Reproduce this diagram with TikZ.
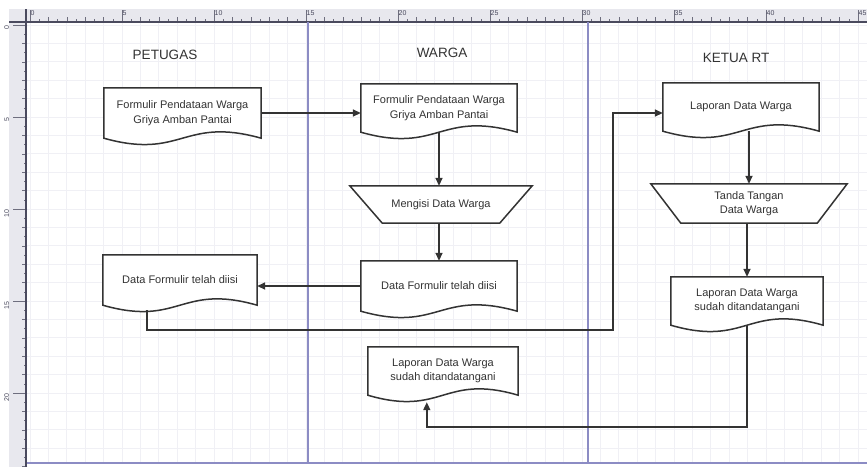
\documentclass[tikz,border=0pt]{standalone}
\usepackage{fontspec}
\setmainfont{Liberation Sans}
\usetikzlibrary{arrows.meta,calc}

\definecolor{ink}{HTML}{333333}
\definecolor{gridc}{HTML}{F0F0F5}
\definecolor{lanec}{HTML}{8C8CC4}
\definecolor{rulerbg}{HTML}{E8E8EE}
\definecolor{rulerln}{HTML}{4A4A5E}

\tikzset{
  docbox/.style={inner sep=0pt, align=center, text=ink,
    font=\fontsize{11}{14.5}\selectfont},
  header/.style={text=ink, font=\fontsize{13.5}{16}\selectfont},
  outline/.style={draw=ink, line width=1.5pt, line join=miter, fill=white},
  flow/.style={draw=ink, line width=1.6pt, -{Triangle[length=8pt,width=7pt]}},
  gridline/.style={draw=gridc, line width=0.7pt},
  laneline/.style={draw=lanec, line width=1.1pt},
  tick/.style={draw=rulerln!80, line width=0.6pt},
  rulerlabel/.style={text=rulerln, font=\fontsize{7}{8}\selectfont, inner sep=0.5pt}
}

% document symbol: flat top, wavy bottom edge
\newcommand\docshape[1]{%
  \path[outline] (#1.north west) -- (#1.north east) -- (#1.south east)
    .. controls ($(#1.south)+(0,-22)$) and ($(#1.south)+(0,22)$) .. (#1.south west) -- cycle;}
% manual operation symbol: wider top than bottom
\newcommand\trapshape[2]{%
  \path[outline] ($(#1.north west)+(-#2,0)$) -- ($(#1.north east)+(#2,0)$)
    -- (#1.south east) -- (#1.south west) -- cycle;}

\begin{document}
\begin{tikzpicture}[x=1pt,y=-1pt]
\useasboundingbox (0,0) rectangle (867,467);
\fill[white] (0,0) rectangle (867,467);

% background grid
\foreach \i in {0,...,45} \draw[gridline] ({30+18.4*\i},22) -- ({30+18.4*\i},463);
\foreach \j in {0,...,23} \draw[gridline] (27,{25+18.4*\j}) -- (867,{25+18.4*\j});

% rulers
\fill[rulerbg] (27,9) rectangle (867,22);
\fill[rulerbg] (9,9) rectangle (27,467);
\foreach \i in {0,...,90} \draw[tick] ({30+9.2*\i},22) -- ++(0,-3);
\foreach \i in {0,...,45} \draw[tick] ({30+18.4*\i},22) -- ++(0,-5);
\foreach \i/\lab in {0/0,1/5,2/10,3/15,4/20,5/25,6/30,7/35,8/40,9/45} {
  \draw[tick] ({30+92*\i},22) -- ++(0,-12);
  \node[rulerlabel, anchor=north west] (tx\i) at ({30+92*\i},9.5) {\lab};
}
\foreach \j in {0,...,48} \draw[tick] (27,{25+9.2*\j}) -- ++(-3,0);
\foreach \j in {0,...,24} \draw[tick] (27,{25+18.4*\j}) -- ++(-5,0);
\foreach \j/\lab in {0/0,1/5,2/10,3/15,4/20} {
  \draw[tick] (27,{25+92*\j}) -- ++(-14,0);
  \node[rulerlabel, rotate=90, anchor=south east] (ty\j) at (10,{25+92*\j}) {\lab};
}
\draw[draw=rulerln, line width=1.5pt] (9,22) -- (867,22);
\draw[draw=rulerln, line width=1.5pt] (26,9) -- (26,467);

% swimlane borders
\draw[laneline] (308,22) -- (308,463);
\draw[laneline] (588,22) -- (588,463);
\draw[laneline] (27,463) -- (867,463);

% lane headings
\node[header] (hPetugas) at (165,55) {PETUGAS};
\node[header] (hWarga) at (442,53) {WARGA};
\node[header] (hKetua) at (736,58) {KETUA RT};

% PETUGAS lane
\node[docbox, minimum width=157pt, minimum height=50pt] (formP) at (182.5,113) {};
\node[docbox, minimum width=154pt, minimum height=50pt] (isiP) at (180,280) {};

% WARGA lane
\node[docbox, minimum width=156pt, minimum height=48pt] (formW) at (439,108) {};
\node[docbox, minimum width=117pt, minimum height=37pt] (isiW) at (441,204.5) {};
\node[docbox, minimum width=156pt, minimum height=50pt] (dataW) at (439,286) {};
\node[docbox, minimum width=150pt, minimum height=48pt] (lapW) at (443,371) {};

% KETUA RT lane
\node[docbox, minimum width=156pt, minimum height=48pt] (lapK) at (741,107) {};
\node[docbox, minimum width=136pt, minimum height=39pt] (ttdK) at (749,203.5) {};
\node[docbox, minimum width=152pt, minimum height=48pt] (sahK) at (747,301) {};

% symbol outlines
\docshape{formP}\docshape{isiP}\docshape{formW}\docshape{dataW}
\docshape{lapW}\docshape{lapK}\docshape{sahK}
\trapshape{isiW}{32.5}\trapshape{ttdK}{30}

% symbol texts
\node[docbox] (formPt) at (formP) {Formulir Pendataan Warga\\Griya Amban Pantai};
\node[docbox] (isiPt) at (isiP) {Data Formulir telah diisi};
\node[docbox] (formWt) at (formW) {Formulir Pendataan Warga\\Griya Amban Pantai};
\node[docbox] (isiWt) at (isiW) {Mengisi Data Warga};
\node[docbox] (dataWt) at (dataW) {Data Formulir telah diisi};
\node[docbox] (lapWt) at (lapW) {Laporan Data Warga\\sudah ditandatangani};
\node[docbox] (lapKt) at (lapK) {Laporan Data Warga};
\node[docbox] (ttdKt) at (ttdK) {Tanda Tangan\\Data Warga};
\node[docbox] (sahKt) at (sahK) {Laporan Data Warga\\sudah ditandatangani};

% flow connectors
\coordinate (turnA) at (613,330);
\coordinate (turnB) at (747,427);
\draw[flow] (formP.east) -- (formP.east -| formW.west);
\draw[flow] (formW.south) -- (formW.south |- isiW.north);
\draw[flow] (isiW.south -| formW.south) -- (formW.south |- dataW.north);
\draw[flow] (dataW.west) -- (dataW.west -| isiP.east);
\draw[flow] ($(isiP.south west)+(44,5)$) |- (turnA) |- ($(lapK.west)+(0,6)$);
\draw[flow] (lapK.south -| ttdK.north) -- (ttdK.north);
\draw[flow] (ttdK.south -| sahK.south) -- (sahK.north);
\draw[flow] (sahK.south) -- (turnB) -| ($(lapW.south west)+(59,7)$);
\end{tikzpicture}
\end{document}
